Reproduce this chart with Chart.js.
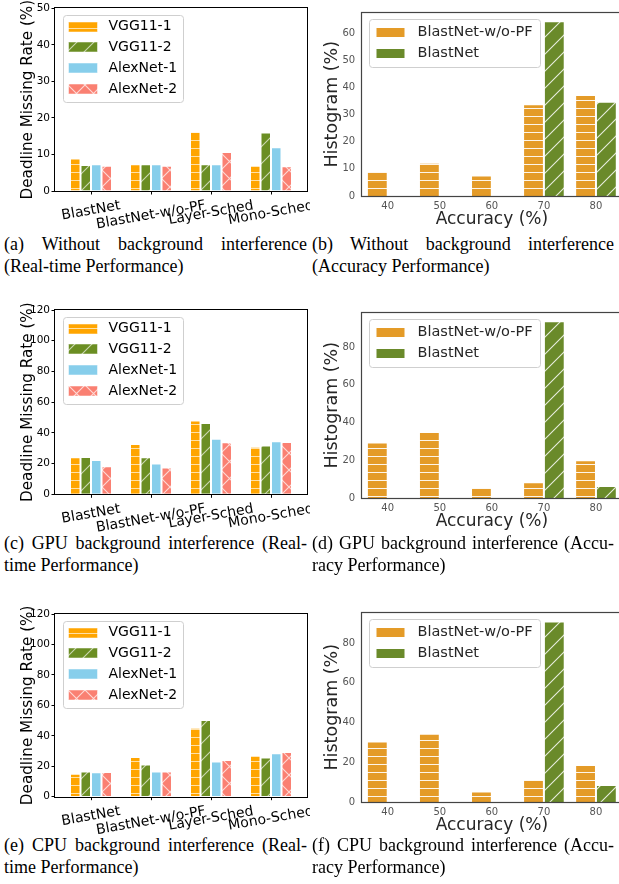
<!DOCTYPE html>
<html>
<head>
<meta charset="utf-8">
<script src="https://cdn.jsdelivr.net/npm/chart.js@4/dist/chart.umd.min.js"></script>
<style>
  html, body { margin: 0; padding: 0; background: #fff; width: 619px; height: 884px; overflow: hidden; }
  body { position: relative; }
  canvas { position: absolute; }
  .cap { position: absolute; font-family: 'Liberation Serif', 'DejaVu Serif', serif; font-size: 18px; line-height: 21.8px; color: #000; }
  .cap .j { text-align: justify; text-align-last: justify; }
</style>
</head>
<body>
<canvas id="rtNone" width="310" height="232" style="left:0;top:0"></canvas>
<canvas id="accNone" width="316" height="232" style="left:310px;top:0"></canvas>
<canvas id="rtGpu" width="310" height="232" style="left:0;top:300px"></canvas>
<canvas id="accGpu" width="316" height="234" style="left:310px;top:300px"></canvas>
<canvas id="rtCpu" width="310" height="230" style="left:0;top:605px"></canvas>
<canvas id="accCpu" width="316" height="238" style="left:310px;top:600px"></canvas>

<div class="cap" style="left:4px;top:234px;width:303px"><div class="j">(a) Without background interference</div><div>(Real-time Performance)</div></div>
<div class="cap" style="left:312px;top:234px;width:302px"><div class="j">(b) Without background interference</div><div>(Accuracy Performance)</div></div>
<div class="cap" style="left:4px;top:533px;width:303px"><div class="j">(c) GPU background interference (Real-</div><div>time Performance)</div></div>
<div class="cap" style="left:312px;top:533px;width:302px"><div class="j">(d) GPU background interference (Accu-</div><div>racy Performance)</div></div>
<div class="cap" style="left:4px;top:835px;width:303px"><div class="j">(e) CPU background interference (Real-</div><div>time Performance)</div></div>
<div class="cap" style="left:312px;top:835px;width:302px"><div class="j">(f) CPU background interference (Accu-</div><div>racy Performance)</div></div>

<script>
// ---- categories and tick labels ----
const schedulers = ['BlastNet', 'BlastNet-w/o-PF', 'Layer-Sched', 'Mono-Sched'];
const modelNames = ['VGG11-1', 'VGG11-2', 'AlexNet-1', 'AlexNet-2'];
const accuracyBins = ['40', '50', '60', '70', '80'];
const accuracyMethods = ['BlastNet-w/o-PF', 'BlastNet'];
const rtTicksNone = [0, 10, 20, 30, 40, 50];
const rtTicksLoaded = [0, 20, 40, 60, 80, 100, 120];
const accTicksNone = [0, 10, 20, 30, 40, 50, 60];
const accTicksLoaded = [0, 20, 40, 60, 80];

// ---- deadline missing rate (%), per scheduler ----
const noneVgg1 = [8.9, 7.3, 16.2, 6.9];
const noneVgg2 = [7.1, 7.3, 7.3, 16.0];
const noneAlex1 = [7.3, 7.3, 7.3, 12.0];
const noneAlex2 = [6.9, 6.9, 10.7, 6.8];

const gpuVgg1 = [24.1, 32.8, 48.0, 31.0];
const gpuVgg2 = [24.3, 24.1, 46.4, 31.7];
const gpuAlex1 = [22.4, 20.0, 36.2, 34.5];
const gpuAlex2 = [18.2, 17.4, 33.9, 34.1];

const cpuVgg1 = [15.1, 26.1, 45.3, 26.9];
const cpuVgg2 = [16.6, 21.2, 50.4, 25.8];
const cpuAlex1 = [16.0, 16.6, 23.2, 28.5];
const cpuAlex2 = [16.2, 16.6, 24.1, 29.3];

// ---- accuracy histograms (%), per accuracy bin ----
const noneAccNoPF = [9.1, 12.2, 7.5, 33.8, 37.2];
const noneAccBlast = [0, 0, 0, 64.3, 34.7];
const gpuAccNoPF = [29.5, 35.0, 5.6, 8.4, 20.0];
const gpuAccBlast = [0, 0, 0, 93.7, 6.3];
const cpuAccNoPF = [30.4, 34.3, 5.3, 11.3, 18.6];
const cpuAccBlast = [0, 0, 0, 90.8, 8.5];

const SANS = "'DejaVu Sans', sans-serif";

// hatched fill patterns
function hatch(base, kind, line, step, lw) {
  const s = step || 8;
  const c = document.createElement('canvas');
  c.width = s; c.height = s;
  const g = c.getContext('2d');
  g.fillStyle = base;
  g.fillRect(0, 0, s, s);
  if (kind) {
    g.fillStyle = line; g.strokeStyle = line; g.lineWidth = lw;
    if (kind === '-') {
      g.fillRect(0, Math.floor(s / 2), s, 1);
    } else {
      g.beginPath();
      g.moveTo(-1, 1); g.lineTo(1, -1);
      g.moveTo(0, s); g.lineTo(s, 0);
      g.moveTo(s - 1, s + 1); g.lineTo(s + 1, s - 1);
      if (kind === 'x') {
        g.moveTo(-1, s - 1); g.lineTo(1, s + 1);
        g.moveTo(0, 0); g.lineTo(s, s);
        g.moveTo(s - 1, -1); g.lineTo(s + 1, 1);
      }
      g.stroke();
    }
  }
  return g.createPattern(c, 'repeat');
}

const rtFills = [
  hatch('#FFA500', '-', 'rgba(255,255,255,0.65)', 8, 1),
  hatch('#6B8E23', '/', 'rgba(255,255,255,0.65)', 17, 1.1),
  hatch('#87CEEB', null, null, 8, 1),
  hatch('#FA8072', 'x', 'rgba(255,255,255,0.7)', 17, 1.1)
];
const accColors = ['#E49B28', '#6A8A2A'];
const accFills = [
  hatch(accColors[0], '-', 'rgba(255,255,255,0.9)', 8, 1),
  hatch(accColors[1], '/', 'rgba(255,255,255,0.85)', 17, 1.1)
];

// axes frame, rotated category labels and an in-plot legend box
const panelDecor = {
  id: 'panelDecor',
  afterDraw(chart, args, o) {
    const ctx = chart.ctx, ca = chart.chartArea;
    ctx.save();
    ctx.strokeStyle = o.frameColor || '#000';
    ctx.lineWidth = o.frameWidth || 1;
    const l = Math.round(ca.left) - 0.5, t = Math.round(ca.top) - 0.5;
    const r = Math.round(ca.right) + 0.5, b = Math.round(ca.bottom) + 0.5;
    ctx.strokeRect(l, t, r - l, b - t);

    if (o.xLabels) {
      const xs = chart.scales.x;
      const ang = o.xLabelAngle * Math.PI / 180;
      ctx.font = o.xLabelSize + 'px ' + SANS;
      ctx.fillStyle = '#000';
      ctx.textAlign = 'center';
      ctx.textBaseline = 'middle';
      const h = o.xLabelSize * 1.17;
      o.xLabels.forEach((txt, i) => {
        const w = ctx.measureText(txt).width;
        const bh = w * Math.sin(ang) + h * Math.cos(ang);
        const x = xs.getPixelForValue(i);
        const y = ca.bottom + o.xLabelGap + bh / 2;
        ctx.save();
        ctx.translate(x, y);
        ctx.rotate(-ang);
        ctx.fillText(txt, 0, 0);
        ctx.restore();
      });
    }

    if (o.legend) {
      const L = o.legend;
      const fx = Math.round(ca.left + L.x) + 0.5, fy = Math.round(ca.top + L.y) + 0.5;
      ctx.beginPath();
      ctx.roundRect(fx, fy, L.w, L.h, 3);
      ctx.fillStyle = 'rgba(255,255,255,0.85)';
      ctx.fill();
      ctx.strokeStyle = '#cfcfcf';
      ctx.lineWidth = 1;
      ctx.stroke();
      ctx.font = L.size + 'px ' + SANS;
      ctx.textAlign = 'left';
      ctx.textBaseline = 'middle';
      chart.data.datasets.forEach((ds, i) => {
        const cy = fy + L.row0 + i * L.rowStep;
        const py = Math.round(cy - L.ph / 2);
        ctx.fillStyle = L.swatches ? L.swatches[i] : ds.backgroundColor;
        ctx.fillRect(fx + L.px, py, L.pw, L.ph);
        if (L.edge) {
          ctx.strokeStyle = L.edge;
          ctx.strokeRect(fx + L.px, py, L.pw, L.ph);
        }
        ctx.fillStyle = L.color;
        ctx.fillText(ds.label, fx + L.tx, cy);
      });
    }
    ctx.restore();
  }
};
Chart.register(panelDecor);

function realtimeChart(id, geo, yMax, yTicks, series) {
  const datasets = series.map((vals, k) => ({
    label: modelNames[k],
    data: vals.map((v, i) => ({ x: i, y: v })),
    backgroundColor: rtFills[k],
    borderColor: 'rgba(255,255,255,0.55)',
    borderWidth: 1,
    categoryPercentage: 0.7,
    barPercentage: 1.0
  }));
  return new Chart(document.getElementById(id), {
    type: 'bar',
    data: { datasets },
    options: {
      responsive: false, animation: false, events: [],
      layout: { padding: { top: geo.padTop, right: geo.padRight, left: 0, bottom: 0 } },
      scales: {
        x: {
          type: 'linear', min: -0.6, max: 3.6, offset: false,
          afterBuildTicks: s => { s.ticks = schedulers.map((_, i) => ({ value: i })); },
          afterFit: s => { s.height = geo.xHeight; },
          ticks: { display: false },
          grid: { display: true, offset: false, drawOnChartArea: false, drawTicks: true, tickLength: 3.5, tickColor: '#000', tickWidth: 1 },
          border: { display: false }
        },
        y: {
          min: 0, max: yMax,
          afterBuildTicks: s => { s.ticks = yTicks.map(v => ({ value: v })); },
          afterFit: s => { s.width = geo.yWidth; },
          ticks: { color: '#000', font: { family: SANS, size: 10.5 }, padding: 1.5 },
          grid: { display: true, drawOnChartArea: false, drawTicks: true, tickLength: 3.5, tickColor: '#000', tickWidth: 1 },
          border: { display: false },
          title: { display: true, text: 'Deadline Missing Rate (%)', color: '#000', font: { family: SANS, size: 15.2 }, padding: { top: 18.6, bottom: 0 } }
        }
      },
      plugins: {
        legend: { display: false }, tooltip: { enabled: false },
        panelDecor: {
          frameColor: '#000', frameWidth: 1,
          xLabels: schedulers, xLabelAngle: 10, xLabelSize: 14, xLabelGap: 6.5,
          legend: { x: 8, y: 6.7, w: 120, h: 87, row0: 11, rowStep: 20.8, px: 5, pw: 29, ph: 10, tx: 45, size: 14, color: '#000', edge: 'rgba(255,255,255,0.5)' }
        }
      }
    }
  });
}

function accuracyChart(id, geo, yTicks, series) {
  const yMax = Math.max(...series[0], ...series[1]) * 1.05;
  const datasets = series.map((vals, k) => ({
    label: accuracyMethods[k],
    data: vals,
    backgroundColor: accFills[k],
    borderColor: 'rgba(255,255,255,0.8)',
    borderWidth: 1,
    categoryPercentage: 0.8,
    barPercentage: 1.0
  }));
  return new Chart(document.getElementById(id), {
    type: 'bar',
    data: { labels: accuracyBins, datasets },
    options: {
      responsive: false, animation: false, events: [],
      layout: { padding: { top: geo.padTop, right: geo.padRight, left: 0, bottom: 0 } },
      scales: {
        x: {
          type: 'category', offset: true,
          afterFit: s => { s.height = geo.xHeight; },
          ticks: { color: '#555', font: { family: SANS, size: 10 }, padding: 4.7, maxRotation: 0 },
          grid: { display: false, drawTicks: false },
          border: { display: false },
          title: { display: true, text: 'Accuracy (%)', color: '#262626', font: { family: SANS, size: 17 }, padding: { top: 0, bottom: 2.2 } }
        },
        y: {
          min: 0, max: yMax,
          afterBuildTicks: s => { s.ticks = yTicks.map(v => ({ value: v })); },
          afterFit: s => { s.width = geo.yWidth; },
          ticks: { color: '#555', font: { family: SANS, size: 10 }, padding: 6.5 },
          grid: { display: false, drawTicks: false },
          border: { display: false },
          title: { display: true, text: 'Histogram (%)', color: '#262626', font: { family: SANS, size: 17.5 }, padding: { top: 11.5, bottom: 0 } }
        }
      },
      plugins: {
        legend: { display: false }, tooltip: { enabled: false },
        panelDecor: {
          frameColor: '#444', frameWidth: 1.2,
          legend: { x: 7.3, y: 6.7, w: 171, h: 48, row0: 12.7, rowStep: 21, px: 7, pw: 28, ph: 9, tx: 48, size: 14.5, color: '#262626', swatches: accColors }
        }
      }
    }
  });
}

realtimeChart('rtNone', { padTop: 8.3, padRight: 3, xHeight: 41, yWidth: 55 }, 50, rtTicksNone,
  [noneVgg1, noneVgg2, noneAlex1, noneAlex2]);
realtimeChart('rtGpu', { padTop: 10, padRight: 3, xHeight: 37.7, yWidth: 55 }, 120, rtTicksLoaded,
  [gpuVgg1, gpuVgg2, gpuAlex1, gpuAlex2]);
realtimeChart('rtCpu', { padTop: 9, padRight: 3, xHeight: 38.3, yWidth: 55 }, 120, rtTicksLoaded,
  [cpuVgg1, cpuVgg2, cpuAlex1, cpuAlex2]);

accuracyChart('accNone', { padTop: 3.3, padRight: 4, xHeight: 36, yWidth: 51.7 }, accTicksNone,
  [noneAccNoPF, noneAccBlast]);
accuracyChart('accGpu', { padTop: 5.7, padRight: 4, xHeight: 36, yWidth: 51.7 }, accTicksLoaded,
  [gpuAccNoPF, gpuAccBlast]);
accuracyChart('accCpu', { padTop: 8.3, padRight: 4, xHeight: 36, yWidth: 51.7 }, accTicksLoaded,
  [cpuAccNoPF, cpuAccBlast]);
</script>
</body>
</html>
